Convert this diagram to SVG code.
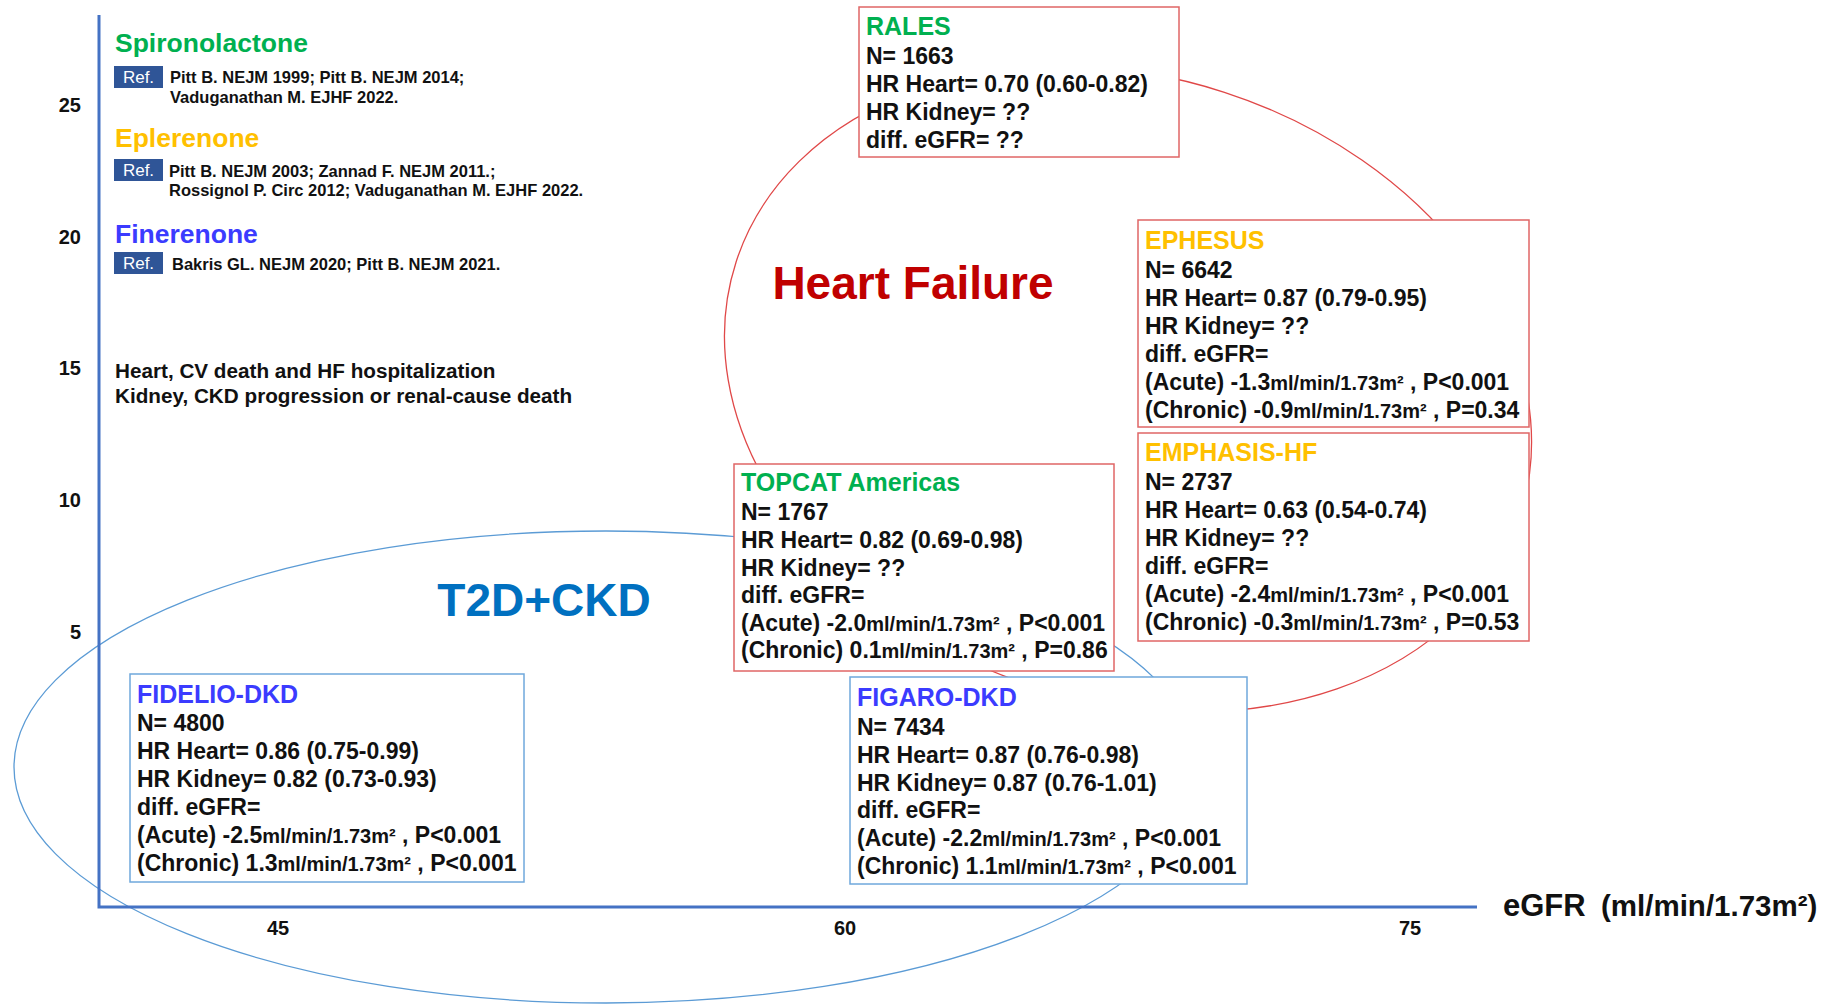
<svg xmlns="http://www.w3.org/2000/svg" width="1823" height="1004" viewBox="0 0 1823 1004">
<style>
  text { font-family: "Liberation Sans", Arial, sans-serif; font-weight: bold; fill: #111; }
  .rbox { fill: #fff; stroke: #E06666; stroke-width: 1.5; }
  .bbox { fill: #fff; stroke: #6FA8DC; stroke-width: 1.5; }
  .ttl { font-size: 25px; }
  .bd { font-size: 23px; }
  .u { font-size: 20px; }
  .green { fill: #00B050; }
  .yellow { fill: #FFC000; }
  .blue { fill: #3B3BFF; }
  .tick { font-size: 20px; }
  .ref { fill: #2F5597; }
  .reft { font-size: 17px; font-weight: normal; fill: #fff; }
  .cite { font-size: 16.5px; }
  .drug { font-size: 26.5px; }
  .note { font-size: 20.7px; }
  .axis { stroke: #4472C4; stroke-width: 3; fill: none; }
</style>

<g id="regions">
  <ellipse id="hf-region" cx="1128" cy="389" rx="412" ry="312" transform="rotate(18 1128 389)" fill="none" stroke="#E04848" stroke-width="1.3"/>
  <ellipse id="ckd-region" cx="606" cy="767" rx="592" ry="236" fill="none" stroke="#5B9BD5" stroke-width="1.3"/>
</g>

<g id="axes">
  <polyline class="axis" points="99,15 99,907 1477,907"/>
  <text class="tick" x="81" y="112" text-anchor="end">25</text>
  <text class="tick" x="81" y="244" text-anchor="end">20</text>
  <text class="tick" x="81" y="375" text-anchor="end">15</text>
  <text class="tick" x="81" y="507" text-anchor="end">10</text>
  <text class="tick" x="81" y="639" text-anchor="end">5</text>
  <text class="tick" x="278" y="935" text-anchor="middle">45</text>
  <text class="tick" x="845" y="935" text-anchor="middle">60</text>
  <text class="tick" x="1410" y="935" text-anchor="middle">75</text>
  <text x="1503" y="916" font-size="31">eGFR</text>
  <text x="1601" y="916" font-size="29.5">(ml/min/1.73m²)</text>
</g>

<g id="legend">
  <text x="115" y="52" class="drug green">Spironolactone</text>
  <rect class="ref" x="114" y="66" width="49" height="22"/>
  <text class="reft" x="138.5" y="83" text-anchor="middle">Ref.</text>
  <text class="cite" x="170" y="83">Pitt B. NEJM 1999; Pitt B. NEJM 2014;</text>
  <text class="cite" x="170" y="103">Vaduganathan M. EJHF 2022.</text>

  <text x="115" y="147" class="drug yellow">Eplerenone</text>
  <rect class="ref" x="114" y="159" width="49" height="22"/>
  <text class="reft" x="138.5" y="176" text-anchor="middle">Ref.</text>
  <text class="cite" x="169" y="177">Pitt B. NEJM 2003; Zannad F. NEJM 2011.;</text>
  <text class="cite" x="169" y="196">Rossignol P. Circ 2012; Vaduganathan M. EJHF 2022.</text>

  <text x="115" y="243" class="drug blue">Finerenone</text>
  <rect class="ref" x="114" y="252" width="49" height="22"/>
  <text class="reft" x="138.5" y="269" text-anchor="middle">Ref.</text>
  <text class="cite" x="172" y="270">Bakris GL. NEJM 2020; Pitt B. NEJM 2021.</text>

  <text x="115" y="378" class="note">Heart, CV death and HF hospitalization</text>
  <text x="115" y="403" class="note">Kidney, CKD progression or renal-cause death</text>
</g>

<g id="region-labels">
  <text x="913" y="299" font-size="46" text-anchor="middle" style="fill:#C00000">Heart Failure</text>
  <text x="544" y="616" font-size="46" text-anchor="middle" style="fill:#0070C0">T2D+CKD</text>
</g>

<g id="rales">
  <rect class="rbox" x="859" y="7" width="320" height="150"/>
  <text class="ttl green" x="866" y="35">RALES</text>
  <text class="bd" x="866" y="64">N= 1663</text>
  <text class="bd" x="866" y="92">HR Heart= 0.70 (0.60-0.82)</text>
  <text class="bd" x="866" y="120">HR Kidney= ??</text>
  <text class="bd" x="866" y="148">diff. eGFR= ??</text>
</g>

<g id="ephesus">
  <rect class="rbox" x="1138" y="220" width="391" height="207"/>
  <text class="ttl yellow" x="1145" y="249">EPHESUS</text>
  <text class="bd" x="1145" y="278">N= 6642</text>
  <text class="bd" x="1145" y="306">HR Heart= 0.87 (0.79-0.95)</text>
  <text class="bd" x="1145" y="334">HR Kidney= ??</text>
  <text class="bd" x="1145" y="362">diff. eGFR=</text>
  <text class="bd" x="1145" y="390">(Acute) -1.3<tspan class="u">ml/min/1.73m²</tspan> , P&lt;0.001</text>
  <text class="bd" x="1145" y="418">(Chronic) -0.9<tspan class="u">ml/min/1.73m²</tspan> , P=0.34</text>
</g>

<g id="emphasis-hf">
  <rect class="rbox" x="1138" y="433" width="391" height="208"/>
  <text class="ttl yellow" x="1145" y="461">EMPHASIS-HF</text>
  <text class="bd" x="1145" y="490">N= 2737</text>
  <text class="bd" x="1145" y="518">HR Heart= 0.63 (0.54-0.74)</text>
  <text class="bd" x="1145" y="546">HR Kidney= ??</text>
  <text class="bd" x="1145" y="574">diff. eGFR=</text>
  <text class="bd" x="1145" y="602">(Acute) -2.4<tspan class="u">ml/min/1.73m²</tspan> , P&lt;0.001</text>
  <text class="bd" x="1145" y="630">(Chronic) -0.3<tspan class="u">ml/min/1.73m²</tspan> , P=0.53</text>
</g>

<g id="topcat">
  <rect class="rbox" x="734" y="464" width="380" height="207"/>
  <text class="ttl green" x="741" y="491">TOPCAT Americas</text>
  <text class="bd" x="741" y="520">N= 1767</text>
  <text class="bd" x="741" y="548">HR Heart= 0.82 (0.69-0.98)</text>
  <text class="bd" x="741" y="576">HR Kidney= ??</text>
  <text class="bd" x="741" y="603">diff. eGFR=</text>
  <text class="bd" x="741" y="631">(Acute) -2.0<tspan class="u">ml/min/1.73m²</tspan> , P&lt;0.001</text>
  <text class="bd" x="741" y="658">(Chronic) 0.1<tspan class="u">ml/min/1.73m²</tspan> , P=0.86</text>
</g>

<g id="fidelio-dkd">
  <rect class="bbox" x="130" y="674" width="394" height="208"/>
  <text class="ttl blue" x="137" y="703">FIDELIO-DKD</text>
  <text class="bd" x="137" y="731">N= 4800</text>
  <text class="bd" x="137" y="759">HR Heart= 0.86 (0.75-0.99)</text>
  <text class="bd" x="137" y="787">HR Kidney= 0.82 (0.73-0.93)</text>
  <text class="bd" x="137" y="815">diff. eGFR=</text>
  <text class="bd" x="137" y="843">(Acute) -2.5<tspan class="u">ml/min/1.73m²</tspan> , P&lt;0.001</text>
  <text class="bd" x="137" y="871">(Chronic) 1.3<tspan class="u">ml/min/1.73m²</tspan> , P&lt;0.001</text>
</g>

<g id="figaro-dkd">
  <rect class="bbox" x="850" y="677" width="397" height="207"/>
  <text class="ttl blue" x="857" y="706">FIGARO-DKD</text>
  <text class="bd" x="857" y="735">N= 7434</text>
  <text class="bd" x="857" y="763">HR Heart= 0.87 (0.76-0.98)</text>
  <text class="bd" x="857" y="791">HR Kidney= 0.87 (0.76-1.01)</text>
  <text class="bd" x="857" y="818">diff. eGFR=</text>
  <text class="bd" x="857" y="846">(Acute) -2.2<tspan class="u">ml/min/1.73m²</tspan> , P&lt;0.001</text>
  <text class="bd" x="857" y="874">(Chronic) 1.1<tspan class="u">ml/min/1.73m²</tspan> , P&lt;0.001</text>
</g>
</svg>
